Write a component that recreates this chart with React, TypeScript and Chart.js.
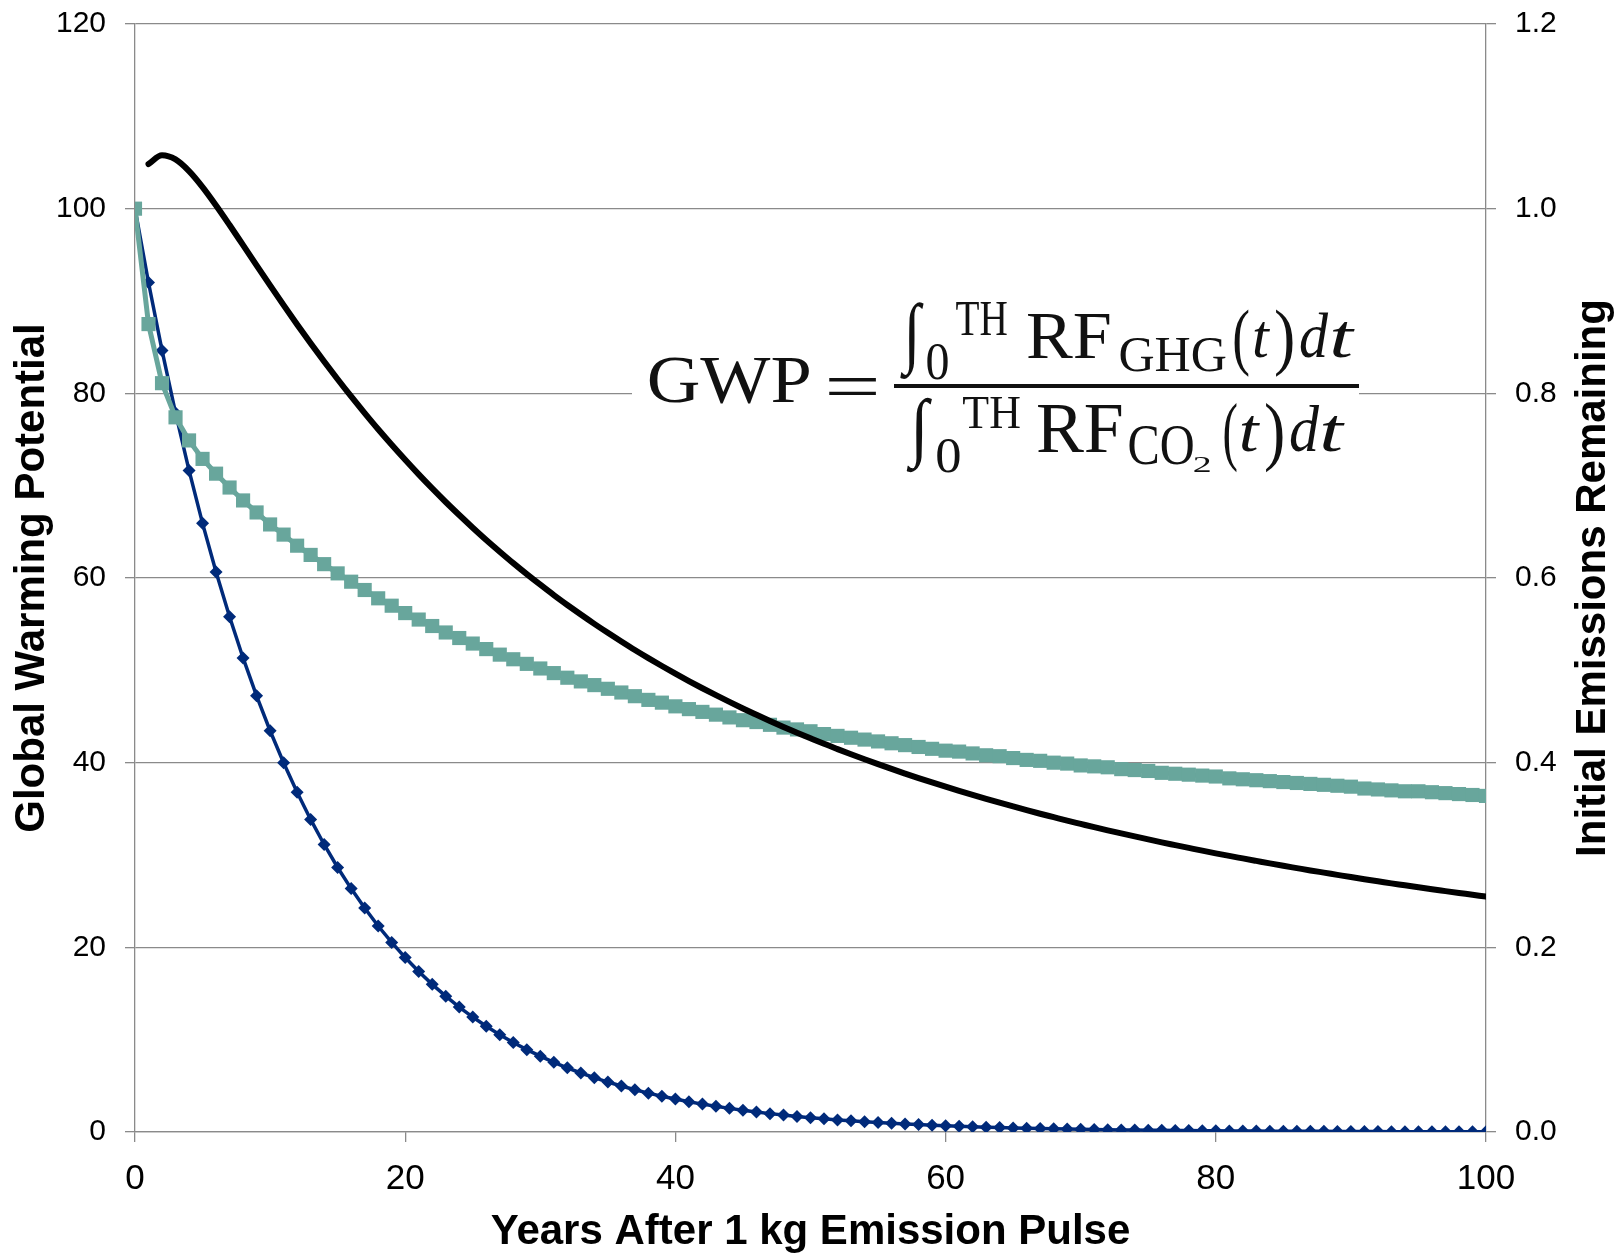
import React, { useEffect, useRef } from 'react';
import { Chart, registerables } from 'chart.js';

Chart.register(...registerables);

// ---------- data ----------
const years = [
  0, 1, 2, 3, 4, 5, 6, 7, 8, 9,
  10, 11, 12, 13, 14, 15, 16, 17, 18, 19,
  20, 21, 22, 23, 24, 25, 26, 27, 28, 29,
  30, 31, 32, 33, 34, 35, 36, 37, 38, 39,
  40, 41, 42, 43, 44, 45, 46, 47, 48, 49,
  50, 51, 52, 53, 54, 55, 56, 57, 58, 59,
  60, 61, 62, 63, 64, 65, 66, 67, 68, 69,
  70, 71, 72, 73, 74, 75, 76, 77, 78, 79,
  80, 81, 82, 83, 84, 85, 86, 87, 88, 89,
  90, 91, 92, 93, 94, 95, 96, 97, 98, 99,
  100,
];

// Fraction of methane pulse remaining (right axis)
const methaneRemaining = [
  1.0000, 0.9200, 0.8465, 0.7788, 0.7165, 0.6592, 0.6065, 0.5580, 0.5134, 0.4724,
  0.4346, 0.3999, 0.3679, 0.3385, 0.3114, 0.2865, 0.2636, 0.2425, 0.2231, 0.2053,
  0.1889, 0.1738, 0.1599, 0.1471, 0.1353, 0.1245, 0.1146, 0.1054, 0.0970, 0.0892,
  0.0821, 0.0755, 0.0695, 0.0639, 0.0588, 0.0541, 0.0498, 0.0458, 0.0421, 0.0388,
  0.0357, 0.0328, 0.0302, 0.0278, 0.0256, 0.0235, 0.0216, 0.0199, 0.0183, 0.0169,
  0.0155, 0.0143, 0.0131, 0.0121, 0.0111, 0.0102, 0.0094, 0.0087, 0.0080, 0.0073,
  0.0067, 0.0062, 0.0057, 0.0052, 0.0048, 0.0044, 0.0041, 0.0038, 0.0035, 0.0032,
  0.0029, 0.0027, 0.0025, 0.0023, 0.0021, 0.0019, 0.0018, 0.0016, 0.0015, 0.0014,
  0.0013, 0.0012, 0.0011, 0.0010, 0.0009, 0.0008, 0.0008, 0.0007, 0.0007, 0.0006,
  0.0006, 0.0005, 0.0005, 0.0004, 0.0004, 0.0004, 0.0003, 0.0003, 0.0003, 0.0003,
  0.0002,
];

// Fraction of CO2 pulse remaining (right axis)
const co2Remaining = [
  1.000, 0.875, 0.811, 0.774, 0.749, 0.729, 0.713, 0.698, 0.684, 0.671,
  0.658, 0.647, 0.635, 0.625, 0.615, 0.605, 0.596, 0.587, 0.578, 0.570,
  0.562, 0.555, 0.548, 0.541, 0.535, 0.529, 0.523, 0.517, 0.512, 0.507,
  0.502, 0.497, 0.492, 0.488, 0.484, 0.480, 0.476, 0.472, 0.468, 0.465,
  0.461, 0.458, 0.455, 0.452, 0.449, 0.446, 0.444, 0.441, 0.438, 0.436,
  0.434, 0.431, 0.429, 0.427, 0.425, 0.423, 0.421, 0.419, 0.417, 0.415,
  0.413, 0.412, 0.410, 0.408, 0.407, 0.405, 0.403, 0.402, 0.400, 0.399,
  0.397, 0.396, 0.395, 0.393, 0.392, 0.391, 0.389, 0.388, 0.387, 0.386,
  0.385, 0.383, 0.382, 0.381, 0.380, 0.379, 0.378, 0.377, 0.376, 0.375,
  0.374, 0.372, 0.371, 0.370, 0.369, 0.369, 0.368, 0.367, 0.366, 0.365,
  0.364,
];

// Global warming potential vs. time horizon (left axis), years 1..100
const gwpYears = years.slice(1);
const gwpValues = [
  104.83, 105.78, 105.33, 104.07, 102.34, 100.35, 98.23, 96.05, 93.86, 91.69,
  89.55, 87.46, 85.42, 83.44, 81.52, 79.66, 77.86, 76.11, 74.43, 72.80,
  71.22, 69.70, 68.23, 66.82, 65.45, 64.12, 62.85, 61.61, 60.42, 59.27,
  58.15, 57.08, 56.04, 55.03, 54.06, 53.12, 52.20, 51.32, 50.47, 49.64,
  48.84, 48.06, 47.31, 46.58, 45.87, 45.19, 44.52, 43.87, 43.25, 42.64,
  42.04, 41.47, 40.91, 40.37, 39.84, 39.32, 38.82, 38.33, 37.86, 37.40,
  36.95, 36.51, 36.08, 35.66, 35.26, 34.86, 34.47, 34.10, 33.73, 33.37,
  33.01, 32.67, 32.34, 32.01, 31.69, 31.37, 31.07, 30.77, 30.47, 30.18,
  29.90, 29.63, 29.36, 29.09, 28.83, 28.58, 28.33, 28.09, 27.85, 27.61,
  27.38, 27.16, 26.93, 26.72, 26.50, 26.29, 26.09, 25.89, 25.69, 25.49,
];

const xTitle = 'Years After 1 kg Emission Pulse';
const yTitle = 'Global Warming Potential';
const y1Title = 'Initial Emissions Remaining';

// ---------- styling ----------
const W = 1622;
const H = 1255;
const SANS = '"Liberation Sans", Arial, Helvetica, sans-serif';
const SERIF = '"Liberation Serif", "Times New Roman", "DejaVu Serif", serif';
const GRID = '#8a8a8a';

function drawFit(ctx: CanvasRenderingContext2D, text: string, font: string,
  x0: number, y0: number, x1: number, y1: number) {
  ctx.font = font;
  ctx.textAlign = 'left';
  ctx.textBaseline = 'alphabetic';
  const m = ctx.measureText(text);
  const iw = m.actualBoundingBoxLeft + m.actualBoundingBoxRight;
  const ih = m.actualBoundingBoxAscent + m.actualBoundingBoxDescent;
  if (!(iw > 0 && ih > 0)) return;
  ctx.save();
  ctx.translate(x0, y0);
  ctx.scale((x1 - x0) / iw, (y1 - y0) / ih);
  ctx.fillText(text, m.actualBoundingBoxLeft, m.actualBoundingBoxAscent);
  ctx.restore();
}

const overlayPlugin = {
  id: 'overlay',
  afterDraw(chart: any) {
    const ctx: CanvasRenderingContext2D = chart.ctx;
    const ca = chart.chartArea;
    ctx.save();
    ctx.fillStyle = '#000';

    // axis titles
    ctx.font = `bold 42px ${SANS}`;
    ctx.textAlign = 'center';
    ctx.textBaseline = 'alphabetic';
    ctx.fillText(xTitle, (ca.left + ca.right) / 2, 1244);
    const cy = (ca.top + ca.bottom) / 2;
    ctx.save();
    ctx.translate(44, cy);
    ctx.rotate(-Math.PI / 2);
    ctx.fillText(yTitle, 0, 0);
    ctx.restore();
    ctx.save();
    ctx.translate(1605, cy);
    ctx.rotate(-Math.PI / 2);
    ctx.fillText(y1Title, 0, 0);
    ctx.restore();

    // formula box
    ctx.fillStyle = '#ffffff';
    ctx.fillRect(632, 292, 727, 188);
    ctx.fillStyle = '#111111';
    const R = `64px ${SERIF}`;
    const I = `italic 64px ${SERIF}`;
    drawFit(ctx, 'GWP', R, 649, 358, 810, 403);
    drawFit(ctx, '=', R, 829, 378, 876, 395);
    ctx.fillRect(894, 384, 465, 4);
    // numerator
    drawFit(ctx, '\u222B', I, 900, 302, 924, 380);
    drawFit(ctx, '0', R, 927, 345, 948, 380);
    drawFit(ctx, 'TH', R, 956, 302, 1007, 335);
    drawFit(ctx, 'RF', R, 1027, 313, 1110, 358);
    drawFit(ctx, 'GHG', R, 1120, 338, 1226, 372);
    drawFit(ctx, '(', R, 1234, 308, 1249, 377);
    drawFit(ctx, 't', I, 1254, 323, 1271, 358);
    drawFit(ctx, ')', R, 1276, 308, 1293, 377);
    drawFit(ctx, 'd', I, 1300, 313, 1329, 358);
    drawFit(ctx, 't', I, 1332, 323, 1356, 358);
    // denominator
    drawFit(ctx, '\u222B', I, 906, 397, 932, 473);
    drawFit(ctx, '0', R, 937, 439, 960, 473);
    drawFit(ctx, 'TH', R, 963, 397, 1020, 428);
    drawFit(ctx, 'RF', R, 1037, 405, 1122, 452);
    drawFit(ctx, 'CO', R, 1129, 427, 1193, 465);
    drawFit(ctx, '2', R, 1194, 457, 1210, 472);
    drawFit(ctx, '(', R, 1224, 402, 1237, 473);
    drawFit(ctx, 't', I, 1241, 417, 1261, 452);
    drawFit(ctx, ')', R, 1266, 402, 1283, 473);
    drawFit(ctx, 'd', I, 1290, 405, 1320, 452);
    drawFit(ctx, 't', I, 1322, 417, 1346, 452);
    ctx.restore();
  },
};

function fixVertical(width: number) {
  return (s: any) => {
    s.width = width;
    s.paddingTop = 0;
    s.paddingBottom = 0;
  };
}

export default function App() {
  const canvasRef = useRef<HTMLCanvasElement | null>(null);

  useEffect(() => {
    const canvas = canvasRef.current;
    if (!canvas) return;
    Chart.defaults.font.family = SANS;

    const chart = new Chart(canvas, {
      type: 'line',
      data: {
        datasets: [
          {
            label: 'GWP',
            data: gwpYears.map((x, i) => ({ x, y: gwpValues[i] })),
            yAxisID: 'y',
            borderColor: '#000000',
            borderWidth: 6,
            borderCapStyle: 'round',
            borderJoinStyle: 'round',
            pointRadius: 0,
            cubicInterpolationMode: 'monotone',
            fill: false,
          },
          {
            label: 'CO2',
            data: years.map((x, i) => ({ x, y: co2Remaining[i] })),
            yAxisID: 'y1',
            borderColor: '#68a69c',
            backgroundColor: '#68a69c',
            borderWidth: 5,
            pointStyle: 'rect',
            pointRadius: 10,
            pointBorderWidth: 0,
            pointBackgroundColor: '#68a69c',
            tension: 0,
            fill: false,
          },
          {
            label: 'CH4',
            data: years.map((x, i) => ({ x, y: methaneRemaining[i] })),
            yAxisID: 'y1',
            borderColor: '#002a7a',
            backgroundColor: '#002a7a',
            borderWidth: 3.5,
            pointStyle: 'rectRot',
            pointRadius: 6.5,
            pointBorderWidth: 0,
            pointBackgroundColor: '#002a7a',
            tension: 0,
            fill: false,
          },
        ],
      },
      options: {
        animation: false,
        responsive: false,
        devicePixelRatio: 1,
        layout: { padding: { top: 24, left: 0, right: 0, bottom: 0 } },
        plugins: {
          legend: { display: false },
          tooltip: { enabled: false },
          title: { display: false },
        },
        scales: {
          x: {
            type: 'linear',
            min: 0,
            max: 100,
            ticks: {
              stepSize: 20,
              color: '#000',
              font: { family: SANS, size: 35 },
              padding: 16,
            },
            grid: {
              drawOnChartArea: false,
              drawTicks: true,
              tickLength: 10,
              color: GRID,
              lineWidth: 1.3,
            },
            border: { color: GRID, width: 1.3 },
            afterFit: (s: any) => { s.height = 123; },
          },
          y: {
            type: 'linear',
            position: 'left',
            min: 0,
            max: 120,
            ticks: {
              stepSize: 20,
              color: '#000',
              font: { family: SANS, size: 30 },
              padding: 19,
            },
            grid: {
              drawTicks: true,
              tickLength: 10,
              color: GRID,
              lineWidth: 1.3,
            },
            border: { color: GRID, width: 1.3 },
            afterFit: fixVertical(135),
          },
          y1: {
            type: 'linear',
            position: 'right',
            min: 0,
            max: 1.2,
            ticks: {
              stepSize: 0.2,
              color: '#000',
              font: { family: SANS, size: 30 },
              padding: 19,
              callback: (v: any) => Number(v).toFixed(1),
            },
            grid: {
              drawOnChartArea: false,
              drawTicks: true,
              tickLength: 10,
              color: GRID,
              lineWidth: 1.3,
            },
            border: { color: GRID, width: 1.3 },
            afterFit: fixVertical(136),
          },
        },
      } as any,
      plugins: [overlayPlugin],
    });

    return () => chart.destroy();
  }, []);

  return (
    <div style={{ position: 'fixed', left: 0, top: 0, width: W, height: H, background: '#fff' }}>
      <canvas ref={canvasRef} width={W} height={H} style={{ width: W, height: H, display: 'block' }} />
    </div>
  );
}
